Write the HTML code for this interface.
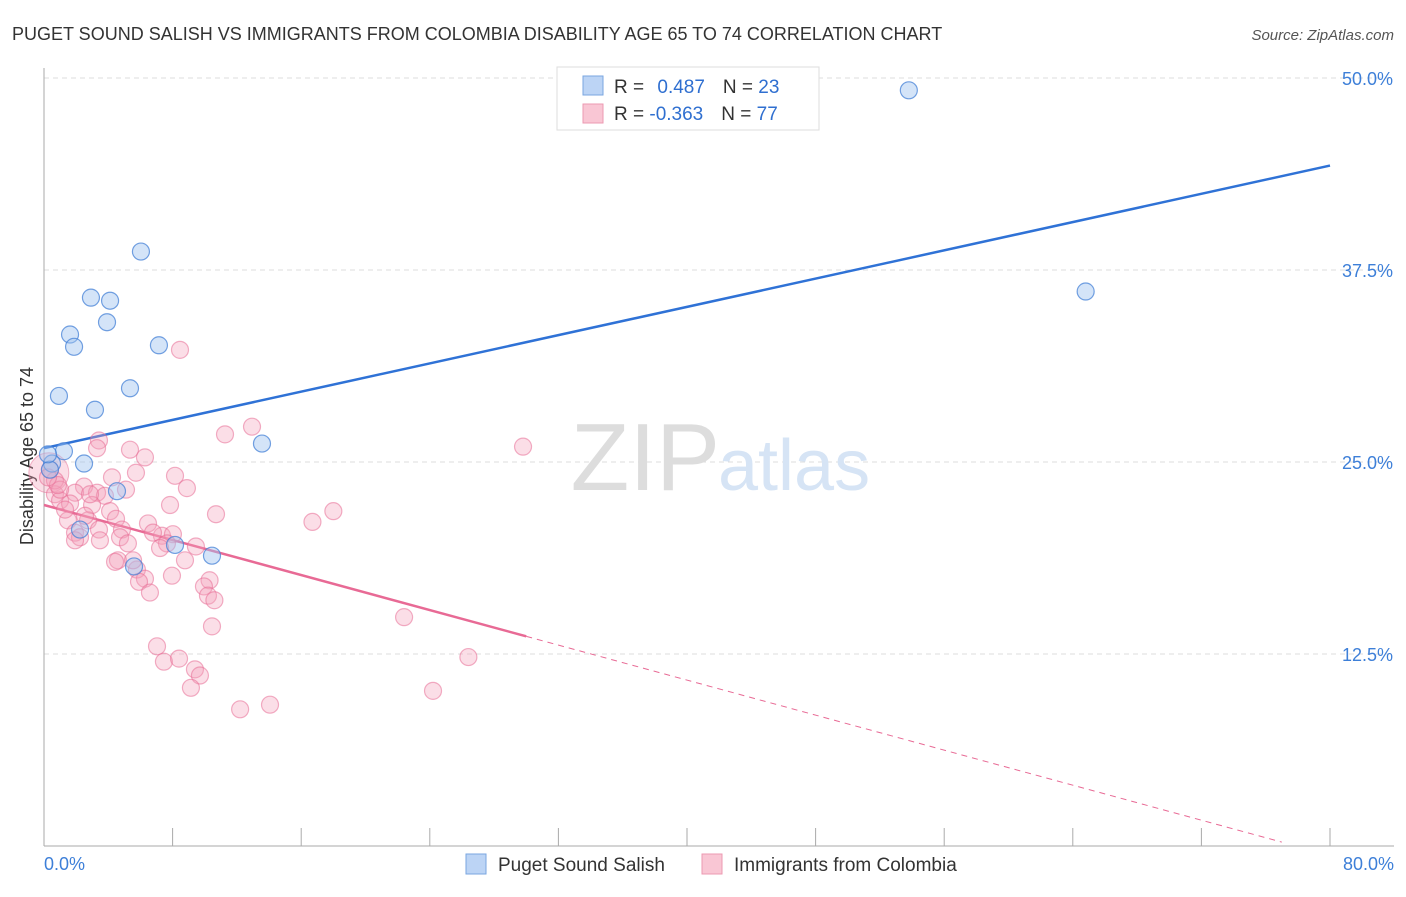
<!DOCTYPE html>
<html><head><meta charset="utf-8"><style>
body{margin:0;background:#fff;font-family:"Liberation Sans",sans-serif;}
svg text{font-family:"Liberation Sans",sans-serif;}
</style></head><body>
<svg id="chart" width="1406" height="892" xmlns="http://www.w3.org/2000/svg">
<text x="12" y="40" font-size="18" fill="#333">PUGET SOUND SALISH VS IMMIGRANTS FROM COLOMBIA DISABILITY AGE 65 TO 74 CORRELATION CHART</text>
<text x="1394" y="40" font-size="15" fill="#555" font-style="italic" text-anchor="end">Source: ZipAtlas.com</text>
<g id="grid"></g>
<text x="720" y="490" font-size="96" fill="#ddd" text-anchor="end" font-family="Liberation Serif">ZIP</text>
<text x="718" y="490" font-size="72" fill="#d6e4f5">atlas</text>
<line x1="44" y1="68" x2="44" y2="846" stroke="#aaa"/>
<line x1="44" y1="846" x2="1394" y2="846" stroke="#aaa"/>
<g id="xticks"></g>
<text x="44" y="870" font-size="18" fill="#3d7fd8">0.0%</text>
<text x="1394" y="870" font-size="18" fill="#3d7fd8" text-anchor="end">80.0%</text>
<text transform="translate(33,456) rotate(-90)" font-size="18" fill="#333" text-anchor="middle">Disability Age 65 to 74</text>
<g id="lines"></g>
<g id="points"></g>
<g>
<rect x="557" y="67" width="262" height="63" fill="#fff" stroke="#ddd"/>
<rect x="583" y="76" width="20" height="19" fill="#bcd4f5" stroke="#7aa6e0"/>
<rect x="583" y="104" width="20" height="19" fill="#f9c6d4" stroke="#ec99b2"/>
<text x="614" y="93" font-size="19" fill="#333">R = <tspan fill="#2f6fd0" dx="8">0.487</tspan><tspan dx="18" fill="#333">N = </tspan><tspan fill="#2f6fd0">23</tspan></text>
<text x="614" y="120" font-size="19" fill="#333">R = <tspan fill="#2f6fd0">-0.363</tspan><tspan dx="18" fill="#333">N = </tspan><tspan fill="#2f6fd0">77</tspan></text>
</g>
<g>
<rect x="466" y="854" width="20" height="20" fill="#bcd4f5" stroke="#7aa6e0"/>
<text x="498" y="871" font-size="19" fill="#333">Puget Sound Salish</text>
<rect x="702" y="854" width="20" height="20" fill="#f9c6d4" stroke="#ec99b2"/>
<text x="734" y="871" font-size="19" fill="#333">Immigrants from Colombia</text>
</g>
</svg>
<script>
const yTicks=[12.5,25,37.5,50];
const yTickLabels=["12.5%","25.0%","37.5%","50.0%"];
const xTickVals=[0,8,16,24,32,40,48,56,64,72,80];
const blueX=[6.03,2.92,4.11,3.92,1.62,1.87,7.15,0.93,3.17,5.35,13.56,1.24,2.49,4.54,0.5,2.24,8.15,10.45,5.6,53.8,64.8,0.37,0.25];
const blueY=[38.7,35.7,35.5,34.1,33.3,32.5,32.6,29.3,28.4,29.8,26.2,25.7,24.9,23.1,24.9,20.6,19.6,18.9,18.2,49.2,36.1,24.5,25.5];
const pinkX=[8.46,12.94,11.26,29.8,3.42,3.3,5.35,6.28,8.15,5.72,4.23,8.89,5.1,2.49,3.3,0.68,1.93,3.79,1.0,1.62,2.99,7.84,4.11,10.7,18.0,16.7,1.49,2.74,4.48,4.85,6.47,1.93,2.24,4.73,5.22,7.34,8.02,7.65,9.45,6.78,4.6,5.78,4.42,6.28,5.91,6.59,7.96,8.77,10.3,9.95,10.2,10.6,10.45,22.4,7.03,7.46,8.4,9.39,9.7,9.14,12.2,14.06,24.2,26.4,0.37,0.68,1.0,1.31,0.87,3.42,1.93,2.55,3.48,5.54,7.22,0.25,2.86];
const pinkY=[32.3,27.3,26.8,26.0,26.4,25.9,25.8,25.3,24.1,24.3,24.0,23.3,23.2,23.4,23.0,22.9,23.0,22.8,22.5,22.3,22.2,22.2,21.8,21.6,21.8,21.1,21.2,21.2,21.3,20.6,21.0,20.4,20.1,20.1,19.7,20.2,20.3,19.7,19.5,20.4,18.6,18.0,18.5,17.4,17.2,16.5,17.6,18.6,17.3,16.9,16.3,16.0,14.3,14.9,13.0,12.0,12.2,11.5,11.1,10.3,8.9,9.2,10.1,12.3,24.5,23.8,23.2,21.9,23.5,20.6,19.9,21.5,19.9,18.6,19.4,24.0,22.9];
const blueTrend=[25.9,44.3];
const pinkTrend=[22.2,-0.6];
const pinkSolidEnd=30;
const NS="http://www.w3.org/2000/svg";
const xs=v=>44+v/80*1286;
const ys=v=>846-v*15.36;
function mk(tag,attrs,parent){const e=document.createElementNS(NS,tag);for(const k in attrs)e.setAttribute(k,attrs[k]);parent.appendChild(e);return e;}
const grid=document.getElementById('grid');
yTicks.forEach((t,i)=>{
 const l=mk('line',{x1:44,x2:1394,y1:ys(t),y2:ys(t),stroke:'#ddd','stroke-dasharray':'5,4'},grid);
 
 
 const tx=mk('text',{x:1393,y:ys(t)+7,'font-size':18,fill:'#3d7fd8','text-anchor':'end'},grid);
 tx.textContent=yTickLabels[i];
 
 
});
const xt=document.getElementById('xticks');
xTickVals.forEach(v=>{
 const l=mk('line',{x1:xs(v),x2:xs(v),y1:828,y2:846,stroke:'#aaa'},xt);
 
 
});
const lg=document.getElementById('lines');
const pts=document.getElementById('points');
const bigP=mk('circle',{cx:xs(0.3),cy:ys(24.3),r:20,fill:'rgba(243,160,186,0.35)',stroke:'rgba(232,110,150,0.5)'},pts);


pinkX.forEach((x,i)=>{
 const c=mk('circle',{cx:xs(x),cy:ys(pinkY[i]),r:8.5,fill:'rgba(243,160,186,0.35)',stroke:'rgba(232,110,150,0.55)','stroke-width':1.2},pts);
 
 
});
blueX.forEach((x,i)=>{
 const c=mk('circle',{cx:xs(x),cy:ys(blueY[i]),r:8.5,fill:'rgba(160,195,240,0.45)',stroke:'rgba(70,130,215,0.75)','stroke-width':1.2},pts);
 
 
});
const bl=mk('line',{x1:xs(0),y1:ys(blueTrend[0]),x2:xs(80),y2:ys(blueTrend[1]),stroke:'#2f72d6','stroke-width':2.5},lg);


const pAt=v=>pinkTrend[0]+(pinkTrend[1]-pinkTrend[0])*v/80;
const pl=mk('line',{x1:xs(0),y1:ys(pinkTrend[0]),x2:xs(pinkSolidEnd),y2:ys(pAt(pinkSolidEnd)),stroke:'#e86a95','stroke-width':2.5},lg);


const pd=mk('line',{x1:xs(pinkSolidEnd),y1:ys(pAt(pinkSolidEnd)),x2:xs(77),y2:ys(pAt(77)),stroke:'#e86a95','stroke-width':1,'stroke-dasharray':'6,5'},lg);


</script>
</body></html>
